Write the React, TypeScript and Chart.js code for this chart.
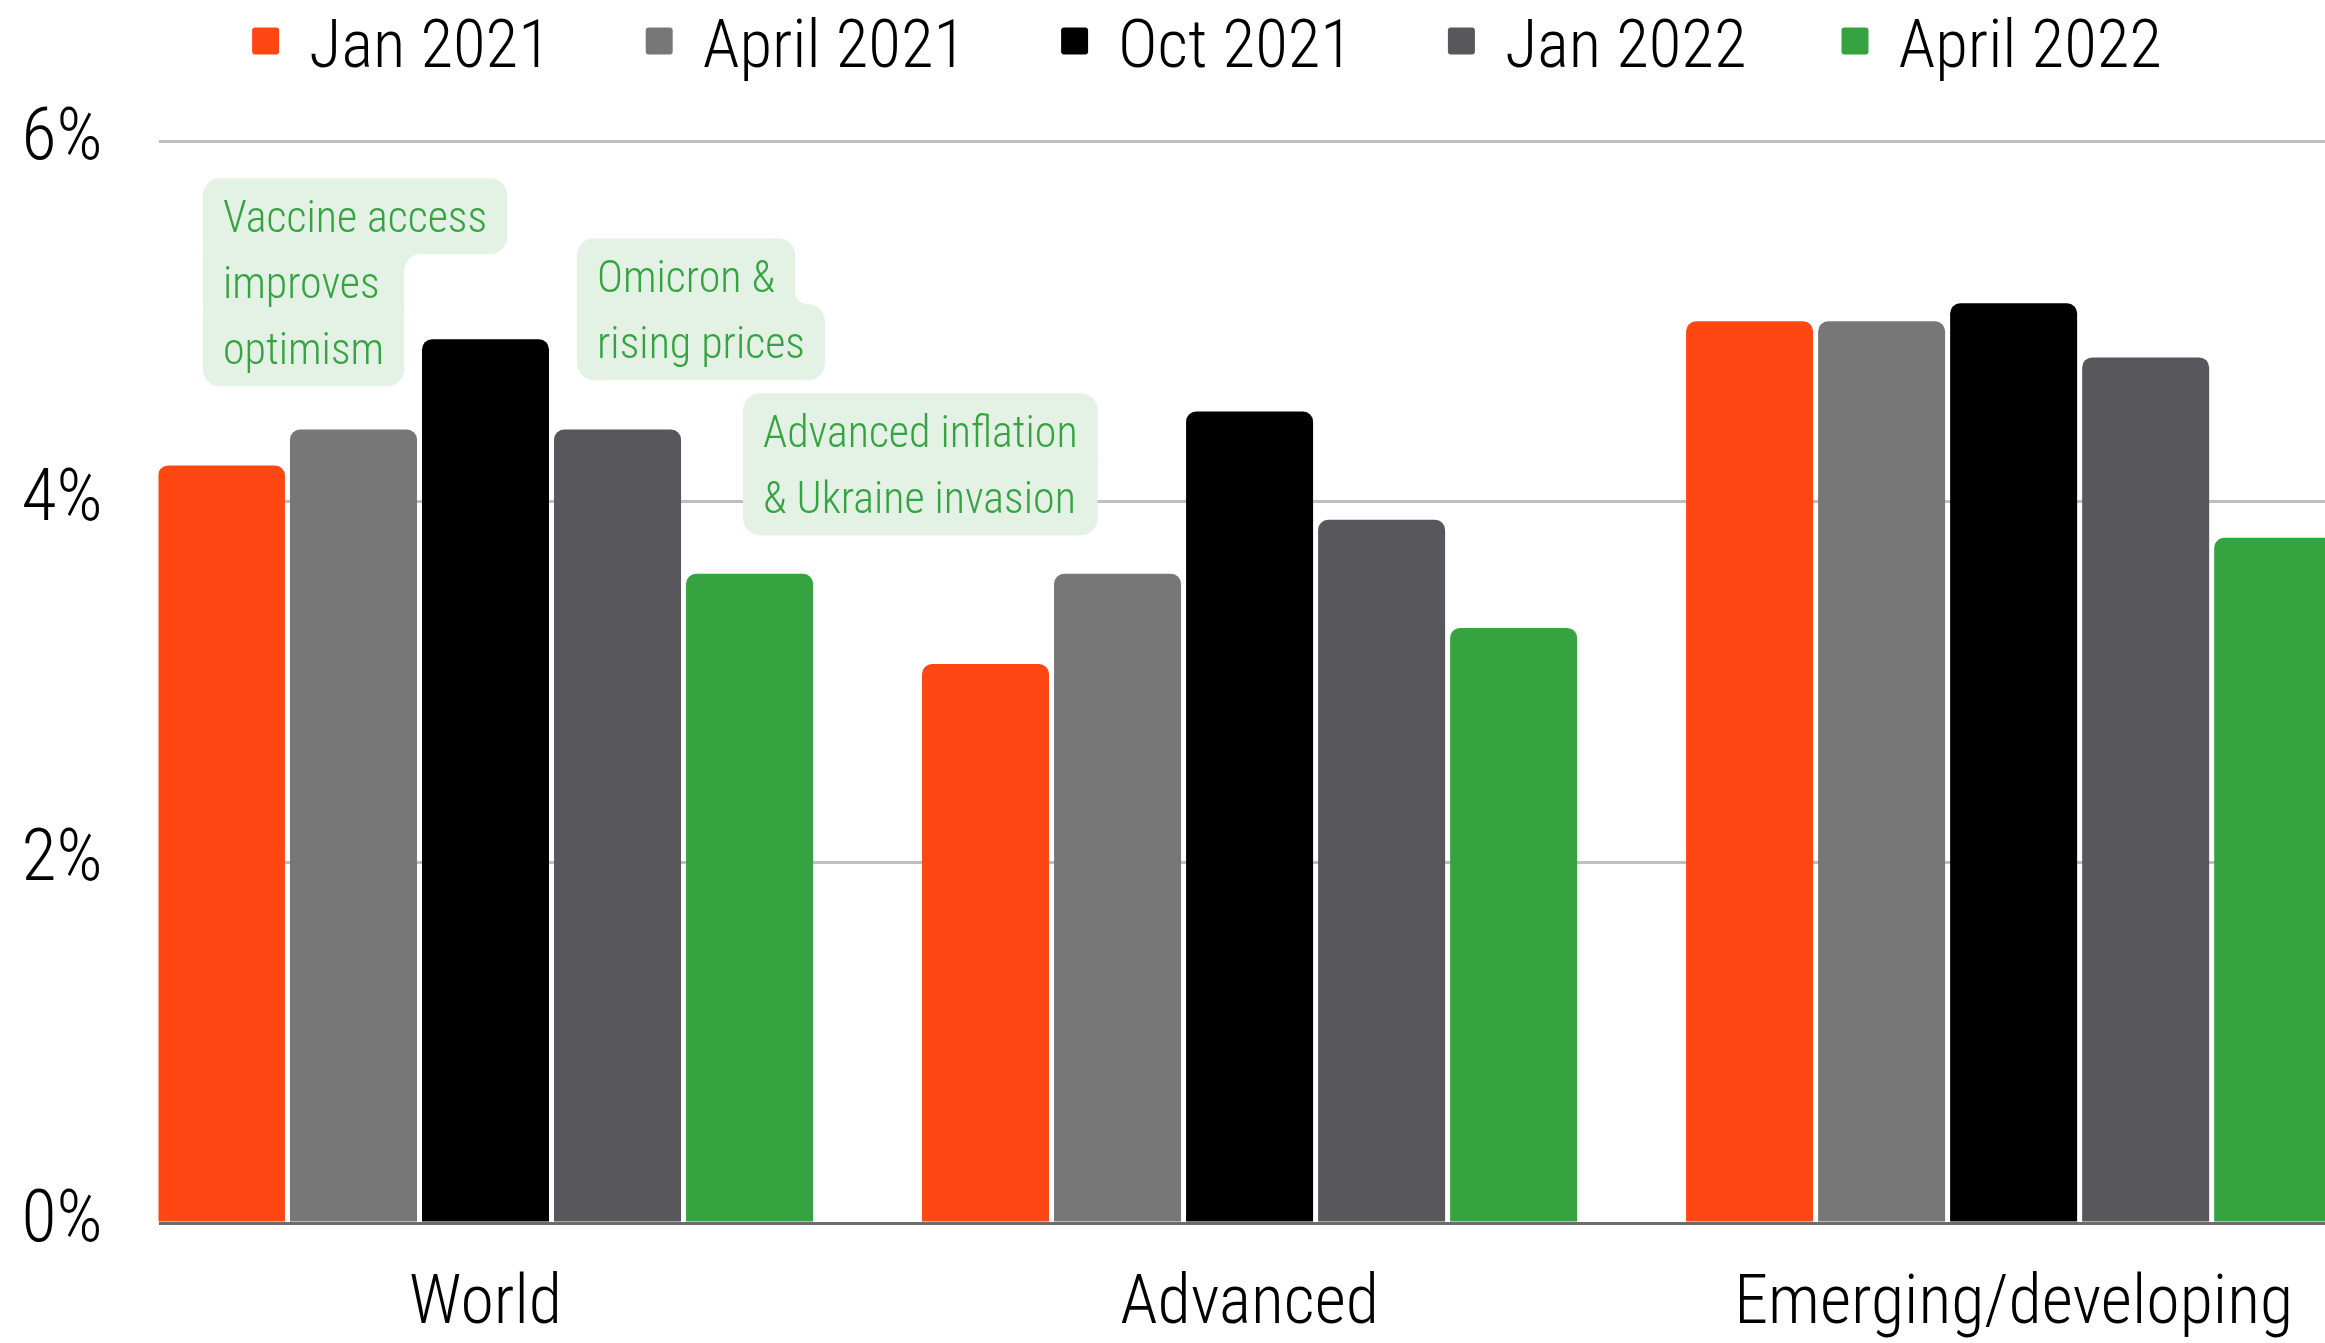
import React, { useEffect, useRef } from 'react';
import { Chart, registerables } from 'chart.js';

Chart.register(...registerables);

// ---------- data ----------
const categories = ['World', 'Advanced', 'Emerging/developing'];
const seriesLabels = ['Jan 2021', 'April 2021', 'Oct 2021', 'Jan 2022', 'April 2022'];
const jan2021 = [4.2, 3.1, 5.0];
const apr2021 = [4.4, 3.6, 5.0];
const oct2021 = [4.9, 4.5, 5.1];
const jan2022 = [4.4, 3.9, 4.8];
const apr2022 = [3.6, 3.3, 3.8];
const yTicks = [0, 2, 4, 6];

const annotationTexts = [
  ['Vaccine access', 'improves', 'optimism'],
  ['Omicron &', 'rising prices'],
  ['Advanced inflation', '& Ukraine invasion'],
];

// ---------- layout / style ----------
const seriesColors = ['#FF4713', '#777777', '#000000', '#58575C', '#34A340'];
const seriesValues = [jan2021, apr2021, oct2021, jan2022, apr2022];
const annotationAnchors = [
  { x: -0.3698, y: 5.793 },
  { x: 0.1198, y: 5.4605 },
  { x: 0.337, y: 4.601 },
];

const FONT = "'Roboto Condensed', sans-serif";
const WEIGHT = 300;
const CANVAS_W = 2414;
const CANVAS_H = 1343;
const X_MIN = -0.428;
const X_MAX = 2.524;

const LEGEND_SIZE = 67;
const LEGEND_BASELINE = 67;
const LEGEND_BOX = 27;
const LEGEND_BOX_CY = 41;
const LEGEND_BOX_GAP = 30;
const LEGEND_ITEM_GAP = 95;

const NOTE_SIZE = 44;
const NOTE_ASC = 54;
const NOTE_DESC = 22;
const NOTE_LINE = 66;
const NOTE_PAD_X = 20;
const NOTE_R = 17;
const NOTE_BG = '#E3F2E5';
const NOTE_COLOR = '#34A340';

const legendPlugin = {
  id: 'topLegend',
  afterDraw(chart: any) {
    const ctx = chart.ctx as CanvasRenderingContext2D;
    const ds = chart.data.datasets;
    ctx.save();
    ctx.font = `${WEIGHT} ${LEGEND_SIZE}px ${FONT}`;
    const widths = ds.map((d: any) => ctx.measureText(d.label).width);
    const itemW = widths.map((w: number) => LEGEND_BOX + LEGEND_BOX_GAP + w);
    const total = itemW.reduce((a: number, b: number) => a + b, 0) + LEGEND_ITEM_GAP * (ds.length - 1);
    let x = chart.width / 2 - total / 2;
    ds.forEach((d: any, i: number) => {
      ctx.fillStyle = d.backgroundColor;
      ctx.beginPath();
      (ctx as any).roundRect(x, LEGEND_BOX_CY - LEGEND_BOX / 2, LEGEND_BOX, LEGEND_BOX, 3);
      ctx.fill();
      ctx.fillStyle = '#000';
      ctx.textAlign = 'left';
      ctx.textBaseline = 'alphabetic';
      ctx.fillText(d.label, x + LEGEND_BOX + LEGEND_BOX_GAP, LEGEND_BASELINE);
      x += itemW[i] + LEGEND_ITEM_GAP;
    });
    ctx.restore();
  },
};

const notesPlugin = {
  id: 'notes',
  afterDatasetsDraw(chart: any) {
    const ctx = chart.ctx as CanvasRenderingContext2D;
    const xs = chart.scales.x;
    const ys = chart.scales.y;
    ctx.save();
    ctx.font = `${WEIGHT} ${NOTE_SIZE}px ${FONT}`;
    annotationTexts.forEach((lines, k) => {
      const left = xs.getPixelForValue(annotationAnchors[k].x);
      const top = ys.getPixelForValue(annotationAnchors[k].y);
      const rights = lines.map((t) => left + NOTE_PAD_X * 2 + ctx.measureText(t).width);
      for (let i = 0; i < rights.length - 1; i++) {
        if (Math.abs(rights[i] - rights[i + 1]) < 12) {
          const m = Math.max(rights[i], rights[i + 1]);
          rights[i] = m;
          rights[i + 1] = m;
        }
      }
      const last = lines.length - 1;
      const baselines = lines.map((_, i) => top + NOTE_ASC + i * NOTE_LINE);
      ctx.fillStyle = NOTE_BG;
      lines.forEach((_, i) => {
        const y0 = baselines[i] - NOTE_ASC;
        const y1 = baselines[i] + NOTE_DESC;
        const tl = i === 0 ? NOTE_R : 0;
        const bl = i === last ? NOTE_R : 0;
        const tr = i === 0 || rights[i] > rights[i - 1] ? NOTE_R : 0;
        const br = i === last || rights[i] > rights[i + 1] ? NOTE_R : 0;
        ctx.beginPath();
        (ctx as any).roundRect(left, y0, rights[i] - left, y1 - y0, [tl, tr, br, bl]);
        ctx.fill();
      });
      for (let i = 0; i < last; i++) {
        const d = rights[i] - rights[i + 1];
        if (Math.abs(d) < 1) continue;
        const r = Math.min(NOTE_R, Math.abs(d) - NOTE_R);
        if (r <= 0) continue;
        ctx.beginPath();
        if (d > 0) {
          const xn = rights[i + 1];
          const yj = baselines[i] + NOTE_DESC;
          ctx.moveTo(xn - r, yj);
          ctx.lineTo(xn + r, yj);
          ctx.arc(xn + r, yj + r, r, -Math.PI / 2, Math.PI, true);
          ctx.lineTo(xn - r, yj + r);
        } else {
          const xn = rights[i];
          const yj = baselines[i + 1] - NOTE_ASC;
          ctx.moveTo(xn - r, yj);
          ctx.lineTo(xn + r, yj);
          ctx.arc(xn + r, yj - r, r, Math.PI / 2, Math.PI, false);
          ctx.lineTo(xn - r, yj - r);
        }
        ctx.closePath();
        ctx.fill();
      }
      ctx.fillStyle = NOTE_COLOR;
      ctx.textAlign = 'left';
      ctx.textBaseline = 'alphabetic';
      lines.forEach((t, i) => ctx.fillText(t, left + NOTE_PAD_X, baselines[i]));
    });
    ctx.restore();
  },
};

export default function App() {
  const ref = useRef<HTMLCanvasElement | null>(null);

  useEffect(() => {
    const canvas = ref.current;
    if (!canvas) return;

    const chart = new Chart(canvas, {
      type: 'bar',
      data: {
        datasets: seriesLabels.map((label, s) => ({
          label,
          data: seriesValues[s].map((v, i) => ({ x: i, y: v })),
          backgroundColor: seriesColors[s],
          borderRadius: 10,
          borderSkipped: 'start',
          barPercentage: 0.962,
          categoryPercentage: 0.864,
        })),
      },
      options: {
        animation: false,
        responsive: false,
        devicePixelRatio: 1,
        layout: { padding: { top: 141, left: 0, right: 0, bottom: 0 } },
        plugins: { legend: { display: false }, tooltip: { enabled: false } },
        scales: {
          x: {
            type: 'linear',
            min: X_MIN,
            max: X_MAX,
            offset: false,
            afterBuildTicks: (axis: any) => {
              axis.ticks = categories.map((_, i) => ({ value: i }));
            },
            afterFit: (axis: any) => {
              axis.height = CANVAS_H - 1223;
            },
            grid: { display: false },
            border: { display: false },
            ticks: {
              callback: (v: any) => categories[v] ?? '',
              font: { family: FONT, size: 68, weight: WEIGHT },
              color: '#000',
              padding: 34,
              maxRotation: 0,
              autoSkip: false,
            },
          },
          y: {
            min: 0,
            max: 6,
            afterBuildTicks: (axis: any) => {
              axis.ticks = yTicks.map((v) => ({ value: v }));
            },
            afterFit: (axis: any) => {
              axis.width = 158.5;
            },
            grid: {
              color: (c: any) => (c.tick && c.tick.value === 0 ? '#6B6B6B' : '#BFBFBF'),
              lineWidth: 3,
              drawTicks: false,
            },
            border: { display: false },
            ticks: {
              callback: (v: any) => `${v}%`,
              font: { family: FONT, size: 72, weight: WEIGHT },
              color: '#000',
              padding: 56,
            },
          },
        },
      } as any,
      plugins: [notesPlugin, legendPlugin],
    });
    return () => chart.destroy();
  }, []);

  return (
    <div
      style={{
        position: 'fixed',
        left: 0,
        top: 0,
        width: 2325,
        height: CANVAS_H,
        overflow: 'hidden',
        background: '#fff',
      }}
    >
      <canvas ref={ref} width={CANVAS_W} height={CANVAS_H} style={{ display: 'block', width: CANVAS_W, height: CANVAS_H }} />
    </div>
  );
}
